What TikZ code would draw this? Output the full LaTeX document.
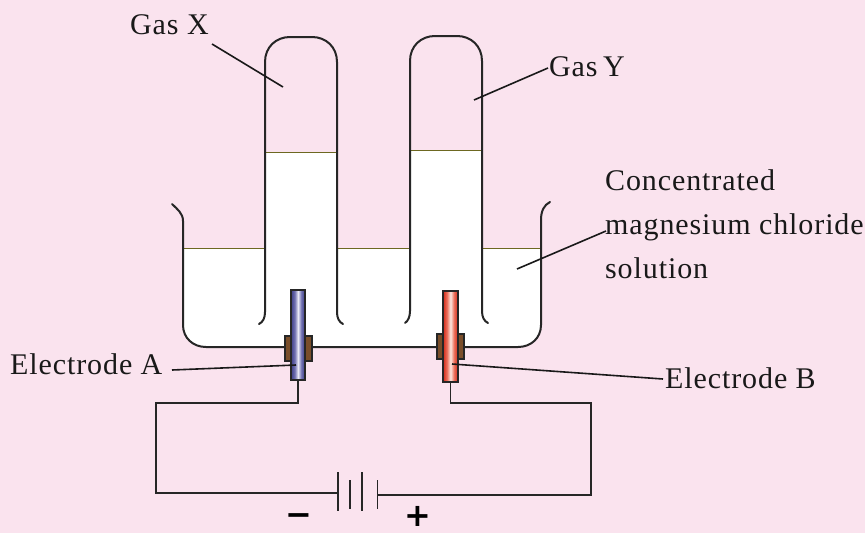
\documentclass[tikz,border=0pt]{standalone}
\usepackage{fontspec}
\setmainfont{Liberation Serif}[LetterSpace=3]
\newfontfamily\signfont{DejaVu Sans}
\definecolor{bg}{RGB}{250,227,238}
\definecolor{bungc}{RGB}{122,78,42}
\definecolor{rodblue}{RGB}{62,62,135}
\definecolor{rodbluel}{RGB}{110,110,175}
\definecolor{rodbluew}{RGB}{232,232,245}
\definecolor{rodred}{RGB}{210,40,25}
\definecolor{rodredl}{RGB}{235,110,90}
\definecolor{rodredw}{RGB}{252,232,225}
\pgfdeclarehorizontalshading{bluerod}{100bp}{color(0bp)=(rodblue); color(25bp)=(rodblue); color(38bp)=(rodbluel); color(50bp)=(rodbluew); color(62bp)=(rodbluel); color(75bp)=(rodblue); color(100bp)=(rodblue)}
\pgfdeclarehorizontalshading{redrod}{100bp}{color(0bp)=(rodred); color(25bp)=(rodred); color(38bp)=(rodredl); color(50bp)=(rodredw); color(62bp)=(rodredl); color(75bp)=(rodred); color(100bp)=(rodred)}
\begin{document}
\begin{tikzpicture}[x=1pt,y=-1pt,
  wall/.style={draw=black!85,line width=2pt,line cap=round},
  level/.style={draw=olive!70!black,line width=1pt},
  wire/.style={draw=black!85,line width=1.7pt},
  lead/.style={draw=black!90,line width=1.6pt},
  lbl/.style={anchor=base west,inner sep=0pt,font=\fontsize{30}{30}\selectfont,text=black!90},
  bung/.style={draw=black!85,line width=2pt,fill=bungc,minimum width=27pt,inner sep=0pt,anchor=north west},
  rod/.style={draw=black!85,line width=2pt,minimum width=14pt,inner sep=0pt,anchor=north west},
  sign/.style={inner sep=0pt,font=\signfont\bfseries\fontsize{32}{32}\selectfont}]
\useasboundingbox (0,0) rectangle (865,533);
\fill[bg] (0,0) rectangle (865,533);
% solution
\fill[white] (183,248) -- (265,248) -- (265,152) -- (337,152) -- (337,248) -- (410,248) -- (410,150) -- (482,150) -- (482,248) -- (541,248) -- (541,325) .. controls (541,338) and (531,347) .. (518,347) -- (206,347) .. controls (193,347) and (183,338) .. (183,325) -- cycle;
\draw[level] (183,248) -- (265,248) (265,152) -- (337,152) (337,248) -- (410,248) (410,150) -- (482,150) (482,248) -- (541,248);
% beaker
\draw[wall] (172,204) .. controls (177,209) and (183,213) .. (183,221) -- (183,325) .. controls (183,338) and (193,347) .. (206,347) -- (518,347) .. controls (531,347) and (541,338) .. (541,325) -- (541,220) .. controls (541,211) and (544,205) .. (550,202);
% tubes
\draw[wall] (259,324) .. controls (263,322) and (265,318) .. (265,312) -- (265,62) .. controls (265,47) and (276,37) .. (290,37) -- (312,37) .. controls (326,37) and (337,47) .. (337,62) -- (337,312) .. controls (337,318) and (339,322) .. (343,324);
\draw[wall] (405,323) .. controls (408,321) and (410,317) .. (410,311) -- (410,61) .. controls (410,46) and (421,36) .. (435,36) -- (457,36) .. controls (471,36) and (482,46) .. (482,61) -- (482,311) .. controls (482,317) and (484,321) .. (488,323);
% electrodes
\node[bung,minimum height=25pt] (bungA) at (283.5,335) {};
\node[bung,minimum height=25pt] (bungB) at (435.5,333) {};
\node[rod,minimum height=90pt,shading=bluerod] (rodA) at (290,289) {};
\node[rod,minimum width=15pt,minimum height=91pt,shading=redrod] (rodB) at (442,290) {};
% battery
\coordinate (c1) at (338,493);
\coordinate (c4) at (377.5,495);
\coordinate (wireL) at (156,403);
\coordinate (wireR) at (591,403);
\draw[wire] (rodA.south) |- (wireL) |- (c1);
\draw[wire] (rodB.south) |- (wireR) |- (c4);
\draw[wire] (338,472) -- (338,511);
\draw[wire] (350,480) -- (350,509);
\draw[wire] (362,472) -- (362,511);
\draw[wire] (377.5,480) -- (377.5,509);
\node[sign] (minus) at (298.5,520) {−};
\node[sign] (plus) at (417.5,516) {+};
% labels
\node[lbl] (gasX) at (130,34) {Gas X};
\node[lbl] (gasY) at (549,76) {Gas\hspace{-3pt} Y};
\node[lbl] (conc1) at (605,190) {Concentrated};
\node[lbl] (conc2) at (605,234) {magnesium chloride};
\node[lbl] (conc3) at (605,278) {solution};
\node[lbl] (elA) at (10,374) {Electrode A};
\node[lbl] (elB) at (665,388) {Electrode B};
% leaders
\coordinate (tX) at (283,87);
\coordinate (tY) at (474,100);
\coordinate (tS) at (517,269);
\coordinate (tA) at (296,365);
\coordinate (tB) at (452,364);
\coordinate (sX) at (212,44);
\coordinate (sY) at (548,68);
\coordinate (sS) at (606,231);
\coordinate (sA) at (172,370);
\coordinate (sB) at (663,379);
\draw[lead] (sX) -- (tX);
\draw[lead] (sY) -- (tY);
\draw[lead] (sS) -- (tS);
\draw[lead] (sA) -- (tA);
\draw[lead] (sB) -- (tB);
\end{tikzpicture}
\end{document}
